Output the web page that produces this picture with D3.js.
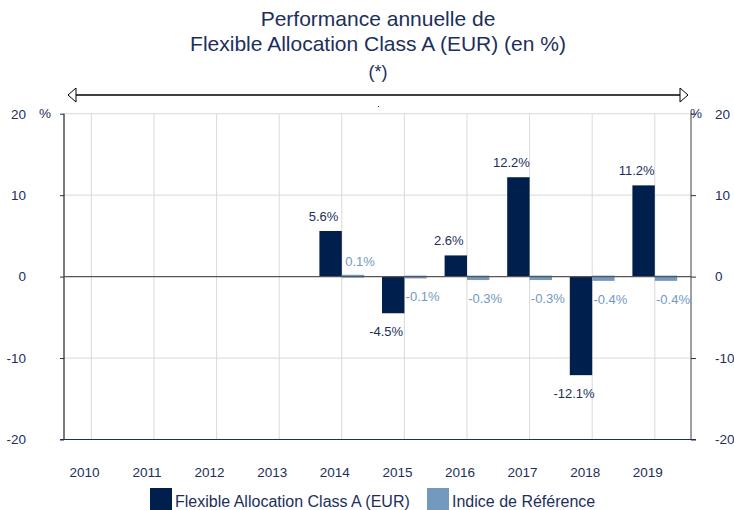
<!DOCTYPE html>
<html>
<head>
<meta charset="utf-8">
<script src="https://cdn.jsdelivr.net/npm/d3@7"></script>
<style>
body { margin: 0; background: #fff; }
text { font-family: "Liberation Sans", Arial, sans-serif; }
</style>
</head>
<body>
<svg width="734" height="510"></svg>

<script>

var years = ["2010", "2011", "2012", "2013", "2014", "2015", "2016", "2017", "2018", "2019"];
var fund = [null, null, null, null, 5.6, -4.5, 2.6, 12.2, -12.1, 11.2];
var index = [null, null, null, null, 0.1, -0.1, -0.3, -0.3, -0.4, -0.4];
var yTicks = [-20, -10, 0, 10, 20];
var titleLines = ["Performance annuelle de", "Flexible Allocation Class A (EUR) (en %)", "(*)"];
var seriesNames = ["Flexible Allocation Class A (EUR)", "Indice de Référence"];

var navy = "#001f4d",
    light = "#7399bf",
    textColor = "#1c2f5c";

var svg = d3.select("svg");

var plotLeft = 64, plotRight = 691, plotTop = 113.7, plotBottom = 439.5;

// category centres (the gridlines sit between the two bars)
var x = d3.scaleLinear().domain([0, years.length - 1]).range([91.4, 654.8]);
var bw = 22.4;

var y = d3.scaleLinear().domain([-20, 20]).range([plotBottom, plotTop]);

// title
svg.append("g").selectAll("text")
    .data(titleLines)
  .enter().append("text")
    .attr("x", 378)
    .attr("y", function(d, i) { return 26 + i * 25 + (i == 2 ? 2 : 0); })
    .attr("text-anchor", "middle")
    .attr("fill", textColor)
    .style("font-size", function(d, i) { return i == 2 ? "18px" : "21px"; })
    .text(function(d) { return d; });

// arrow
var defs = svg.append("defs");
defs.append("marker")
    .attr("id", "head")
    .attr("viewBox", "0 0 10 16")
    .attr("refX", 9).attr("refY", 8)
    .attr("markerWidth", 10).attr("markerHeight", 16)
    .attr("markerUnits", "userSpaceOnUse")
    .attr("orient", "auto-start-reverse")
  .append("path")
    .attr("d", "M1,1L9,8L1,15Z")
    .attr("fill", "#fff")
    .attr("stroke", "#000")
    .attr("stroke-width", 1);

svg.append("line")
    .attr("x1", 68).attr("x2", 688)
    .attr("y1", 95).attr("y2", 95)
    .attr("stroke", "#000")
    .attr("stroke-width", 1.5)
    .attr("marker-start", "url(#head)")
    .attr("marker-end", "url(#head)");

svg.append("rect")
    .attr("x", 378).attr("y", 106).attr("width", 1).attr("height", 1)
    .attr("fill", "#333");

// gridlines
svg.append("g").selectAll("line")
    .data(years)
  .enter().append("line")
    .attr("x1", function(d, i) { return x(i); })
    .attr("x2", function(d, i) { return x(i); })
    .attr("y1", plotTop).attr("y2", plotBottom)
    .attr("stroke", "#d9d9d9")
    .attr("stroke-width", 1);

svg.append("g").selectAll("line")
    .data([-10, 10, 20])
  .enter().append("line")
    .attr("x1", plotLeft).attr("x2", plotRight)
    .attr("y1", y).attr("y2", y)
    .attr("stroke", "#d9d9d9")
    .attr("stroke-width", 1);

// axes
svg.append("line")
    .attr("x1", plotRight).attr("x2", plotRight)
    .attr("y1", plotTop).attr("y2", plotBottom)
    .attr("stroke", "#7f7f7f").attr("stroke-width", 1.5);

svg.append("line")
    .attr("x1", plotLeft).attr("x2", plotLeft)
    .attr("y1", plotTop).attr("y2", plotBottom)
    .attr("stroke", "#222").attr("stroke-width", 1.2);

var tickFmt = function(d) { return String(d); };

var yLeft = svg.append("g")
    .attr("transform", "translate(" + plotLeft + ",0)")
    .call(d3.axisLeft(y).tickValues(yTicks).tickSize(4).tickPadding(34).tickFormat(tickFmt));
var yRight = svg.append("g")
    .attr("transform", "translate(" + plotRight + ",0)")
    .call(d3.axisRight(y).tickValues(yTicks).tickSize(5).tickPadding(19).tickFormat(tickFmt));
[yLeft, yRight].forEach(function(g) {
  g.select(".domain").remove();
  g.selectAll(".tick line").attr("stroke", "#1c2f5c");
  g.selectAll(".tick text")
      .attr("fill", textColor)
      .style("font-size", "13.5px")
      .style("font-family", "'Liberation Sans', Arial, sans-serif");
});

svg.append("text")
    .attr("x", 45).attr("y", y(20) + 4.5)
    .attr("text-anchor", "middle")
    .attr("fill", textColor).style("font-size", "13.5px")
    .text("%");
svg.append("text")
    .attr("x", 696).attr("y", y(20) + 4.5)
    .attr("text-anchor", "middle")
    .attr("fill", textColor).style("font-size", "13.5px")
    .text("%");

// bars
svg.append("g").selectAll("rect")
    .data(fund.map(function(v, i) { return {v: v, i: i}; }).filter(function(d) { return d.v != null; }))
  .enter().append("rect")
    .attr("x", function(d) { return x(d.i) - bw; })
    .attr("width", bw)
    .attr("y", function(d) { return y(Math.max(0, d.v)); })
    .attr("height", function(d) { return Math.abs(y(d.v) - y(0)); })
    .attr("fill", navy);

svg.append("g").selectAll("rect")
    .data(index.map(function(v, i) { return {v: v, i: i}; }).filter(function(d) { return d.v != null; }))
  .enter().append("rect")
    .attr("x", function(d) { return x(d.i); })
    .attr("width", bw)
    .attr("y", function(d) { return y(Math.max(0, d.v)) - 1; })
    .attr("height", function(d) { return Math.abs(y(d.v) - y(0)) + 2; })
    .attr("fill", light);

// zero line and bottom line
svg.append("line")
    .attr("x1", plotLeft).attr("x2", plotRight)
    .attr("y1", y(0)).attr("y2", y(0))
    .attr("stroke", "#555").attr("stroke-width", 1.2);

svg.append("line")
    .attr("x1", 60).attr("x2", 696)
    .attr("y1", y(-20)).attr("y2", y(-20))
    .attr("stroke", "#1c2f5c").attr("stroke-width", 1.2);

// value labels
var fmt = function(v) { return v.toFixed(1) + "%"; };

svg.append("g").selectAll("text")
    .data(fund.map(function(v, i) { return {v: v, i: i}; }).filter(function(d) { return d.v != null; }))
  .enter().append("text")
    .attr("x", function(d) { return x(d.i) - bw / 2 - 7; })
    .attr("y", function(d) { return d.v >= 0 ? y(d.v) - 10 : y(d.v) + 23; })
    .attr("text-anchor", "middle")
    .attr("fill", textColor).style("font-size", "13px")
    .text(function(d) { return fmt(d.v); });

svg.append("g").selectAll("text")
    .data(index.map(function(v, i) { return {v: v, i: i}; }).filter(function(d) { return d.v != null; }))
  .enter().append("text")
    .attr("x", function(d) { return x(d.i) + bw / 2 + 7; })
    .attr("y", function(d) { return d.v >= 0 ? y(d.v) - 10 : y(d.v) + 24; })
    .attr("text-anchor", "middle")
    .attr("fill", light).style("font-size", "13px")
    .text(function(d) { return fmt(d.v); });

// year labels
svg.append("g").selectAll("text")
    .data(years)
  .enter().append("text")
    .attr("x", function(d, i) { return x(i) - 7; })
    .attr("y", 477)
    .attr("text-anchor", "middle")
    .attr("fill", textColor).style("font-size", "13.5px")
    .text(function(d) { return d; });

// legend
var legend = svg.append("g").selectAll("g")
    .data(seriesNames)
  .enter().append("g")
    .attr("transform", function(d, i) { return "translate(" + (i == 0 ? 150 : 427) + ",488)"; });
legend.append("rect")
    .attr("width", 22).attr("height", 22)
    .attr("fill", function(d, i) { return i == 0 ? navy : light; });
legend.append("text")
    .attr("x", 25).attr("y", 19)
    .attr("fill", textColor).style("font-size", "16px")
    .text(function(d) { return d; });

</script>
</body>
</html>
